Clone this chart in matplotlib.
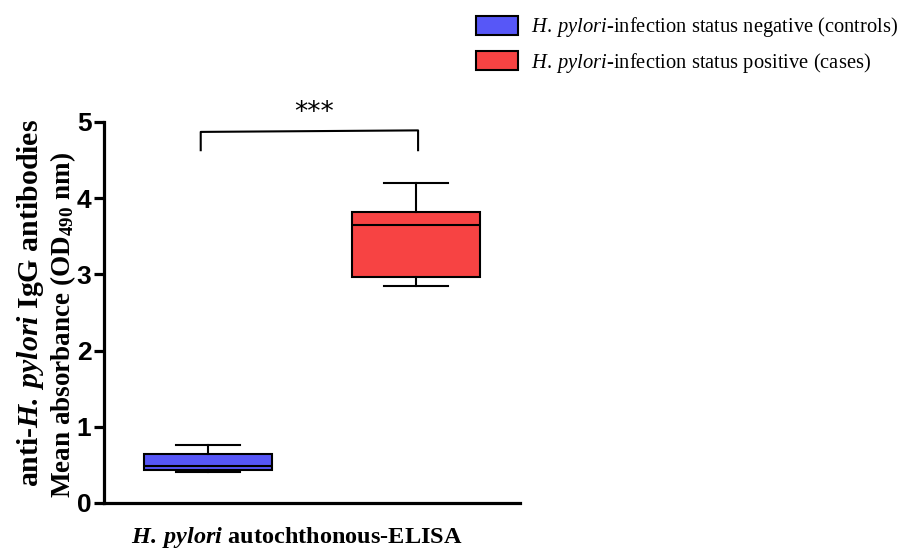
import matplotlib
matplotlib.use("Agg")
import matplotlib.pyplot as plt
from matplotlib.patches import Patch

# box statistics (OD490)
groups = ["controls", "cases"]
whislo = [0.41, 2.85]
q1 = [0.43, 2.97]
med = [0.48, 3.65]
q3 = [0.64, 3.82]
whishi = [0.76, 4.20]
colors = ["#5757f7", "#f74343"]
legend_labels = [
    r"$\mathit{H.\:pylori}$-infection status negative (controls)",
    r"$\mathit{H.\:pylori}$-infection status positive (cases)",
]
yticks = [0, 1, 2, 3, 4, 5]

plt.rcParams["mathtext.fontset"] = "custom"
plt.rcParams["mathtext.rm"] = "Liberation Serif"
plt.rcParams["mathtext.it"] = "Liberation Serif:italic"
plt.rcParams["mathtext.bf"] = "Liberation Serif:bold"
plt.rcParams["mathtext.bfit"] = "Liberation Serif:italic:bold"

fig = plt.figure(figsize=(9.07, 5.51), dpi=100)
ax = fig.add_axes([104 / 907, 1 - 503 / 551, 416 / 907, 381 / 551])

stats = []
for i in range(len(groups)):
    stats.append(dict(whislo=whislo[i], q1=q1[i], med=med[i], q3=q3[i],
                      whishi=whishi[i], label=groups[i]))

bp = ax.bxp(stats, positions=[1, 2], widths=0.62, capwidths=0.31,
            showfliers=False, patch_artist=True,
            boxprops=dict(linewidth=1.5, edgecolor="black"),
            medianprops=dict(color="black", linewidth=1.5),
            whiskerprops=dict(color="black", linewidth=1.5),
            capprops=dict(color="black", linewidth=1.5))
for patch, c in zip(bp["boxes"], colors):
    patch.set_facecolor(c)

ax.set_xlim(0.5, 2.5)
ax.set_ylim(0, 5)
ax.set_yticks(yticks)
ax.set_xticks([])
for s in ["top", "right"]:
    ax.spines[s].set_visible(False)
for s in ["left", "bottom"]:
    ax.spines[s].set_linewidth(2.3)
ax.tick_params(axis="y", length=7, width=2.3, pad=2)
for lab in ax.get_yticklabels():
    lab.set_fontfamily("Liberation Sans")
    lab.set_fontweight("bold")
    lab.set_fontsize(19)

# significance bracket
ax.plot([0.965, 0.965, 2.01, 2.01], [4.63, 4.87, 4.89, 4.63], color="black",
        linewidth=1.5, clip_on=False)
ax.text(1.51, 5.12, "***", ha="center", va="center", fontsize=19,
        fontfamily="DejaVu Sans")

# axis labels
fig.text(31 / 907, 1 - 303 / 551, r"anti-$\mathbfit{H.\:pylori}$ IgG antibodies",
         rotation=90, ha="center", va="center", fontsize=21.5,
         fontfamily="Liberation Serif", fontweight="bold")
fig.text(63 / 907, 1 - 325 / 551, r"Mean absorbance (OD$_\mathbf{490}$ nm)",
         rotation=90, ha="center", va="center", fontsize=19.5,
         fontfamily="Liberation Serif", fontweight="bold")
fig.text(297 / 907, 1 - 538 / 551, r"$\mathbfit{H.\:pylori}$ autochthonous-ELISA",
         ha="center", va="center", fontsize=17.5,
         fontfamily="Liberation Serif", fontweight="bold")

handles = [Patch(facecolor=c, edgecolor="black", linewidth=1.5) for c in colors]
fig.legend(handles, legend_labels, loc="upper left",
           bbox_to_anchor=(468 / 907, 1 - 7 / 551), frameon=False,
           prop=dict(family="Liberation Serif", size=14.8),
           handlelength=2.05, handleheight=1.07, handletextpad=0.6,
           labelspacing=0.55, borderaxespad=0)

fig.savefig("out.png", dpi=100)
